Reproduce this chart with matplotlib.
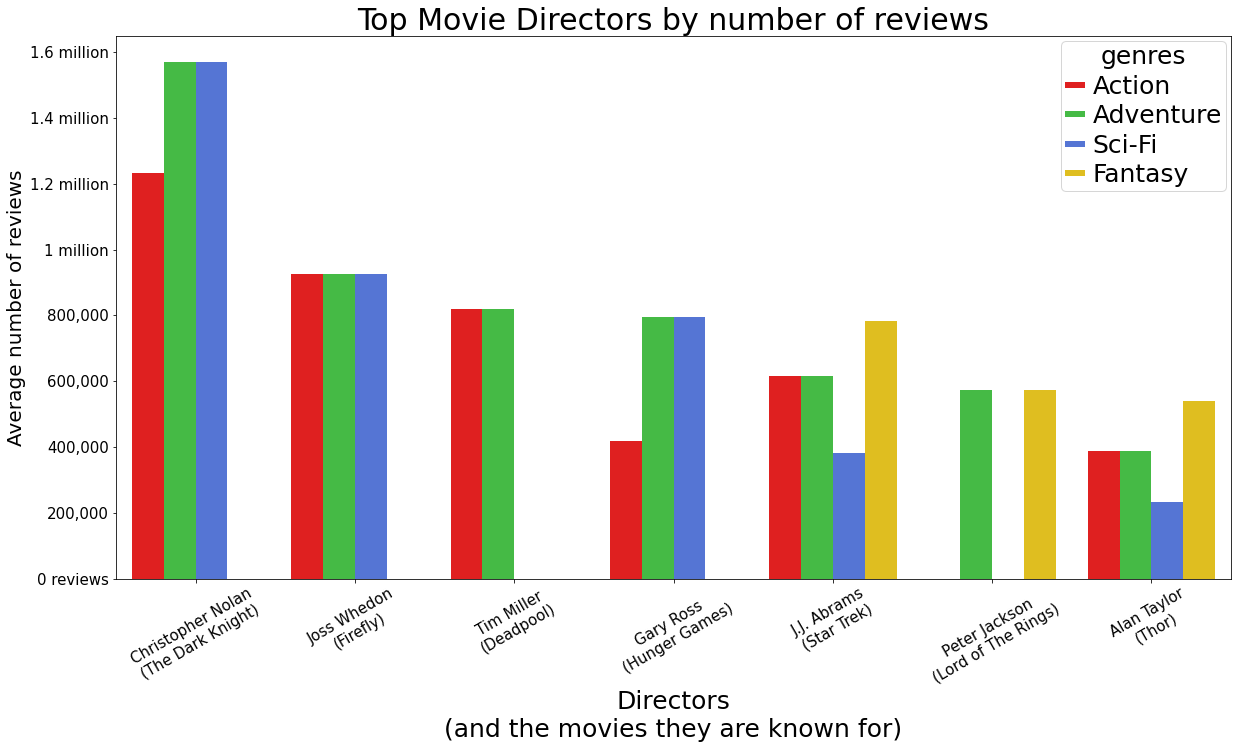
import matplotlib
matplotlib.use('Agg')
import matplotlib.pyplot as plt
from matplotlib.ticker import FuncFormatter
from matplotlib.lines import Line2D
import numpy as np

# data
directors = ['Christopher Nolan\n(The Dark Knight)', 'Joss Whedon\n(Firefly)',
             'Tim Miller\n(Deadpool)', 'Gary Ross\n(Hunger Games)',
             'J.J. Abrams\n(Star Trek)', 'Peter Jackson\n(Lord of The Rings)',
             'Alan Taylor\n(Thor)']
genres = ['Action', 'Adventure', 'Sci-Fi', 'Fantasy']
action = [1233000, 926000, 820000, 419000, 616000, np.nan, 389000]
adventure = [1570000, 926000, 820000, 795000, 616000, 574000, 389000]
scifi = [1570000, 926000, np.nan, 795000, 383000, np.nan, 234000]
fantasy = [np.nan, np.nan, np.nan, np.nan, 783000, 574000, 540000]
colors = ['#df2020', '#45ba45', '#5575d4', '#dfbe20']


def fmt_reviews(v, pos):
    if v == 0:
        return '0 reviews'
    if v >= 1e6:
        return f'{v / 1e6:g} million'
    return f'{int(v):,}'


fig = plt.figure(figsize=(1239 / 72, 749 / 72), dpi=72)
ax = fig.add_axes([0.0936, 0.2270, 0.9000, 0.7249])

x = np.arange(len(directors))
width = 0.2
for i, (name, vals, col) in enumerate(zip(genres, [action, adventure, scifi, fantasy], colors)):
    ax.bar(x + (i - 1.5) * width, vals, width, color=col, label=name)

ax.set_xlim(-0.5, len(directors) - 0.5)
ax.set_ylim(0, 1648000)
ax.set_yticks(np.arange(0, 1600001, 200000))
ax.yaxis.set_major_formatter(FuncFormatter(fmt_reviews))
ax.set_xticks(x)
ax.set_xticklabels(directors, rotation=30, ha='center', multialignment='center')
ax.tick_params(labelsize=15)

ax.set_title('Top Movie Directors by number of reviews', fontsize=30)
ax.set_ylabel('Average number of reviews', fontsize=20)
ax.set_xlabel('Directors\n(and the movies they are known for)', fontsize=25)

# thin flat legend keys like the reference
handles = [Line2D([], [], color=c, lw=6, solid_capstyle='butt') for c in colors]
ax.legend(handles, genres, title='genres', fontsize=25, title_fontsize=25, loc='upper right',
          handlelength=0.8, labelspacing=0.22, borderpad=0.16,
          borderaxespad=0.2, handletextpad=0.32)

fig.savefig('out.png', dpi=72)
